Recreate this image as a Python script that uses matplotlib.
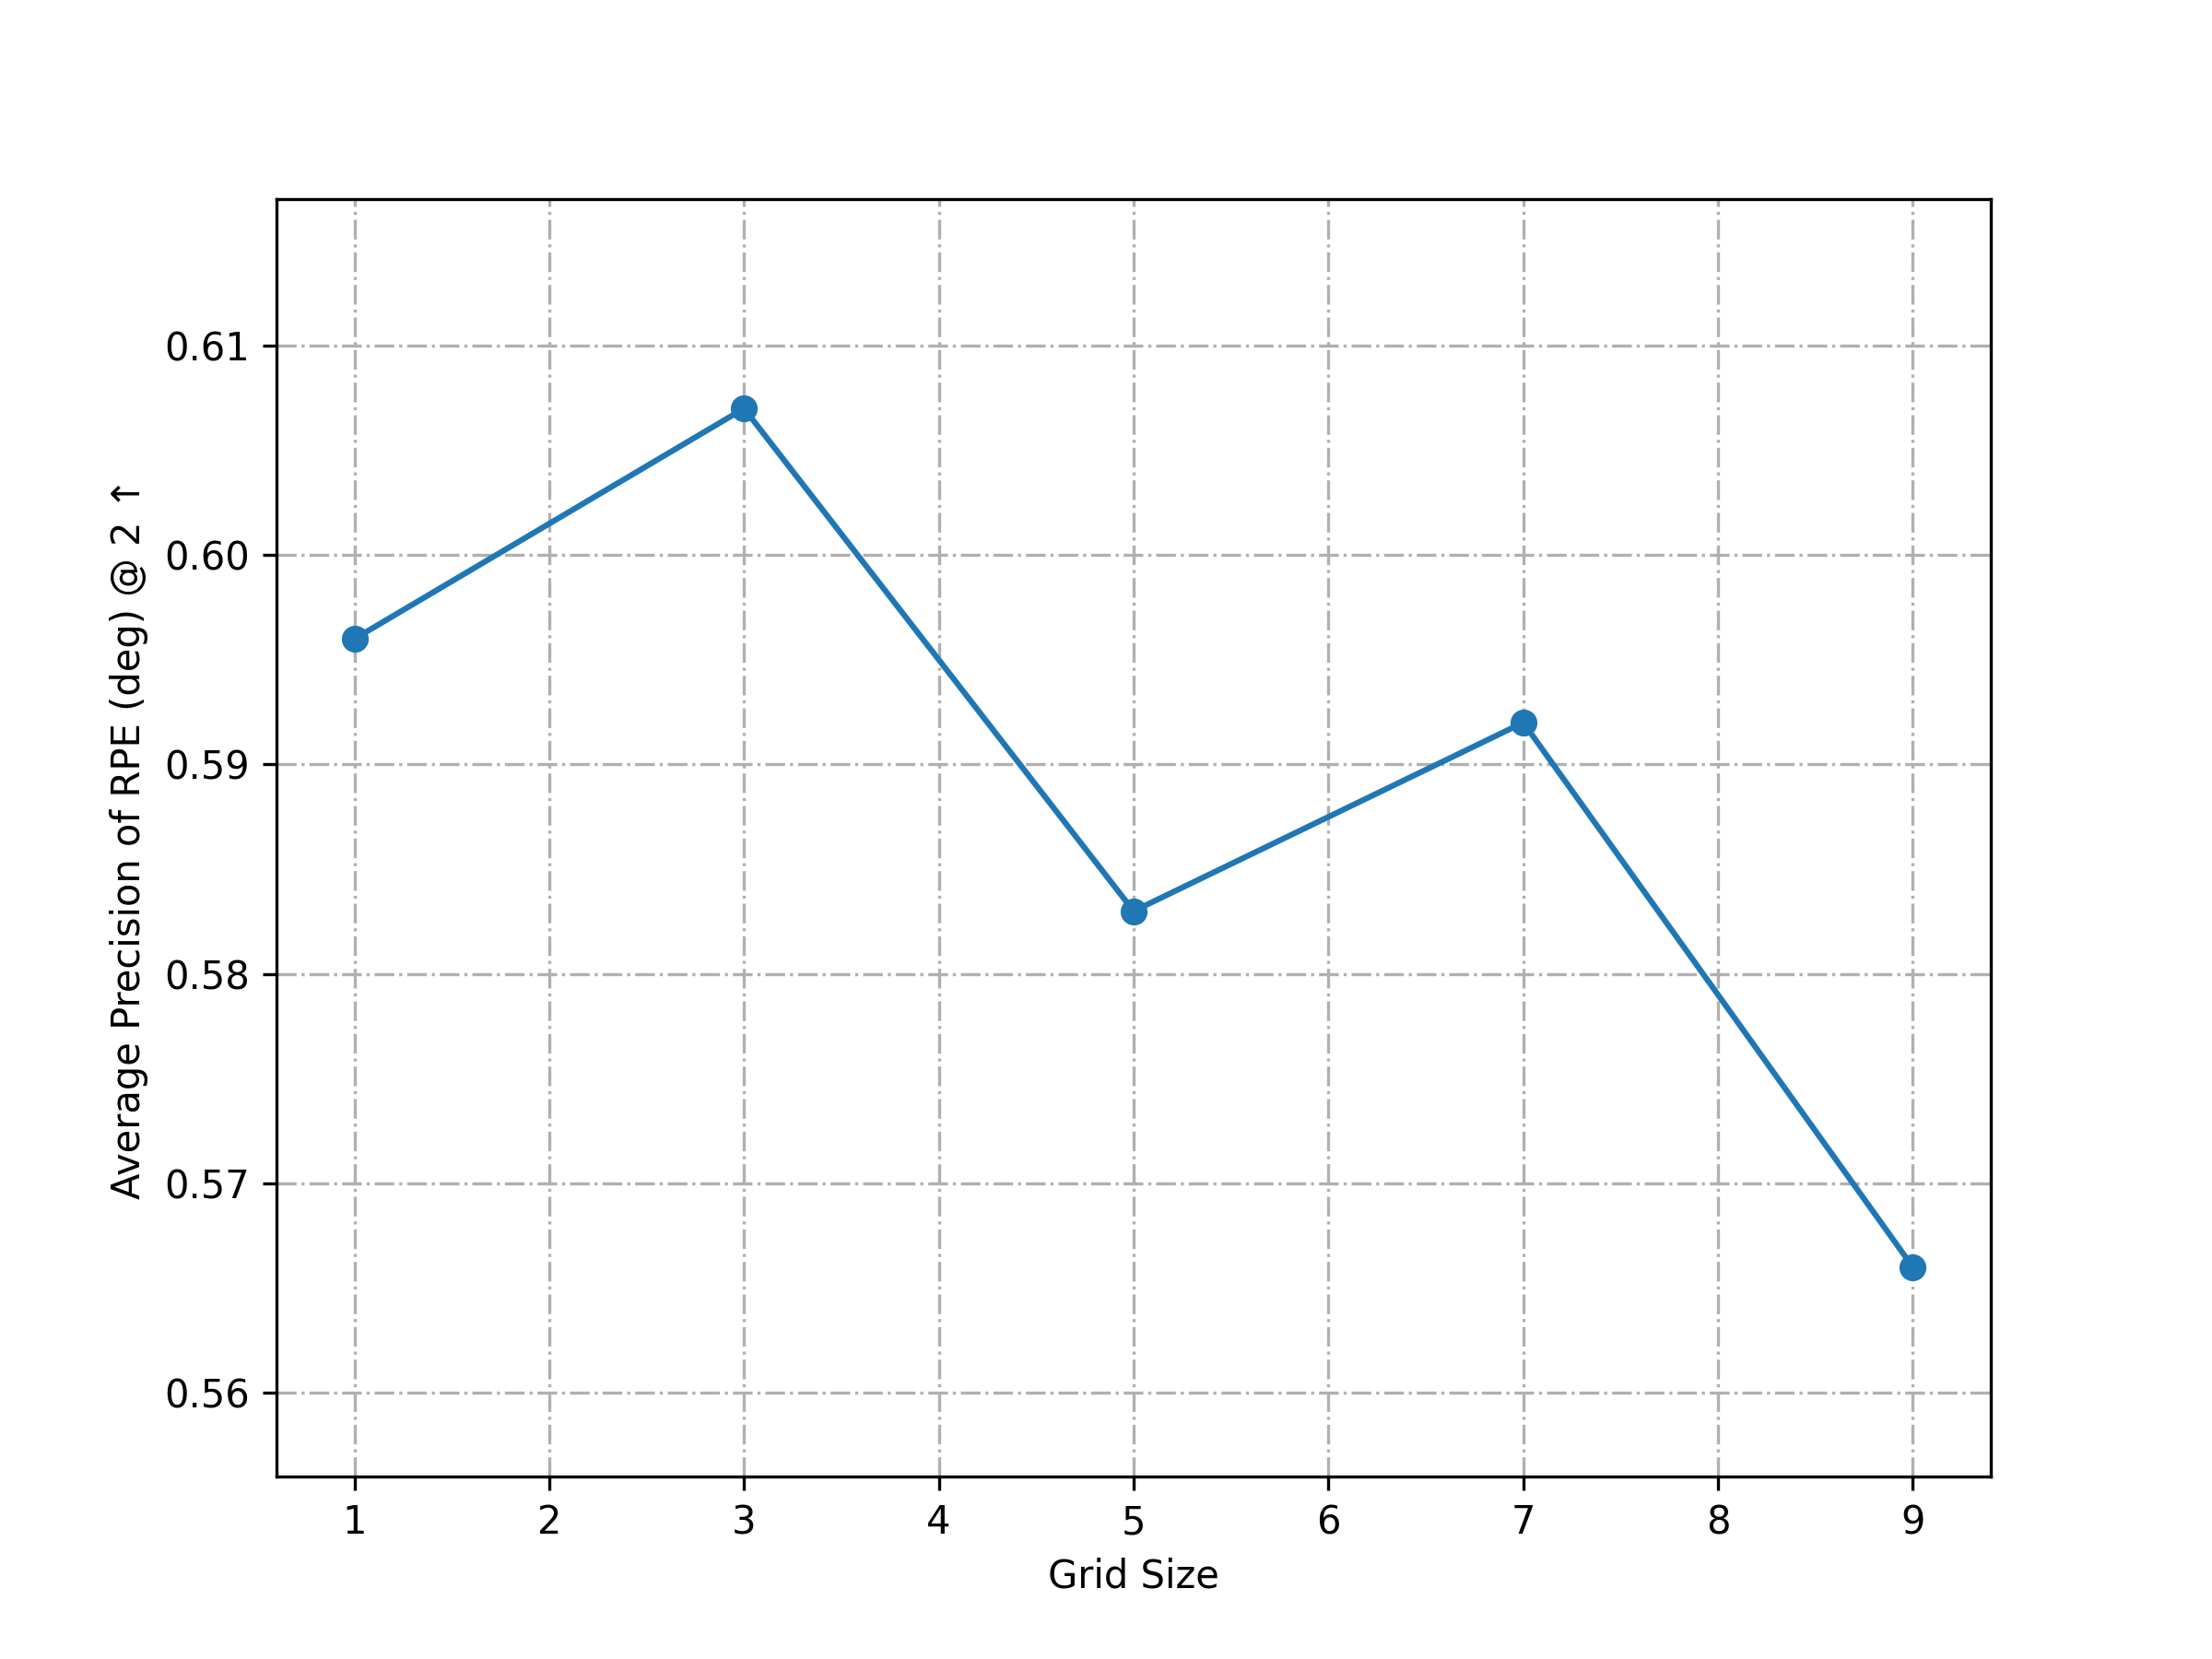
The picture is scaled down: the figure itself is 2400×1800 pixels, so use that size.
import numpy as np
import matplotlib
matplotlib.use('Agg')
import matplotlib.pyplot as plt

grid_sizes = [1, 3, 5, 7, 9]
ap_values = [0.596, 0.607, 0.583, 0.592, 0.566]
x_ticks = list(range(1, 10))

fig, ax = plt.subplots(figsize=(8, 6), dpi=300)
ax.plot(grid_sizes, ap_values, marker='o', color='#1f77b4')
ax.set_xticks(x_ticks)
ax.set_ylim(min(ap_values) - 0.01, max(ap_values) + 0.01)
ax.grid(True, linestyle='-.')
ax.set_xlabel('Grid Size')
ax.set_ylabel('Average Precision of RPE (deg) @ 2 ↑')
fig.savefig('out.png', dpi=300)
